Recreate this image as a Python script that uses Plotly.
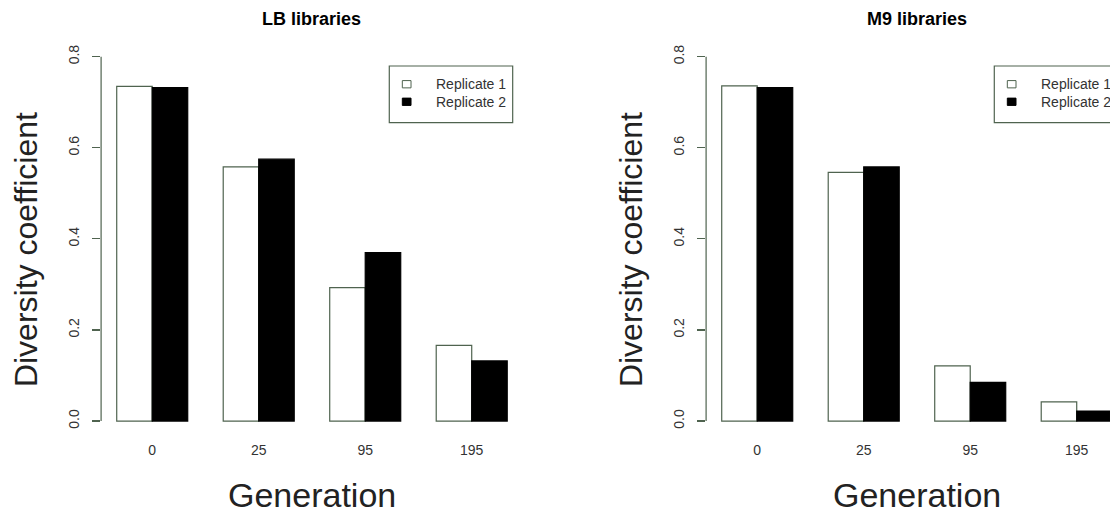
import plotly.graph_objects as go

# ---------------- data ----------------
generations = ["0", "25", "95", "195"]
lb_rep1 = [0.735, 0.558, 0.293, 0.166]
lb_rep2 = [0.732, 0.575, 0.370, 0.132]
m9_rep1 = [0.736, 0.546, 0.121, 0.042]
m9_rep2 = [0.732, 0.558, 0.085, 0.022]
y_ticks = [0.0, 0.2, 0.4, 0.6, 0.8]
panel_titles = ["LB libraries", "M9 libraries"]
series_names = ["Replicate 1", "Replicate 2"]
x_title = "Generation"
y_title = "Diversity coefficient"

# ---------------- style ----------------
W, H = 1110, 516
FONT = "Liberation Sans, Arial, sans-serif"
AXIS_COL = "#4f634f"
TXT_COL = "#333333"

def px_x(p):
    return p / W

def px_y(p):
    return 1 - p / H

# R barplot(beside=TRUE) layout: each group = space 1 + 2 bars
def bar_centers(i_bar):
    return [1 + 3 * g + i_bar + 0.5 for g in range(len(generations))]

group_centers = [1 + 3 * g + 1.0 for g in range(len(generations))]
x_lo, x_hi = 1 - 0.04 * 11, 1 + 11 + 0.04 * 11
y_lo, y_hi = -0.04 * 0.8, 0.8 + 0.04 * 0.8
px_per_unit = 35.5

panels = [
    dict(xa="x", ya="y", r1=lb_rep1, r2=lb_rep2, left_px=101.1),
    dict(xa="x2", ya="y2", r1=m9_rep1, r2=m9_rep2, left_px=706.1),
]

fig = go.Figure()
shapes = []
annotations = []

for k, p in enumerate(panels):
    fig.add_trace(go.Bar(
        x=bar_centers(0), y=p["r1"], width=1, name=series_names[0],
        marker=dict(color="white", line=dict(color=AXIS_COL, width=1.2)),
        xaxis=p["xa"], yaxis=p["ya"], showlegend=False, hoverinfo="skip"))
    fig.add_trace(go.Bar(
        x=bar_centers(1), y=p["r2"], width=1, name=series_names[1],
        marker=dict(color="black", line=dict(color="black", width=1.2)),
        xaxis=p["xa"], yaxis=p["ya"], showlegend=False, hoverinfo="skip"))

    # y axis line from first to last tick (R style)
    shapes.append(dict(type="line", xref=p["xa"] + " domain", yref=p["ya"],
                       x0=0, x1=0, y0=y_ticks[0], y1=y_ticks[-1],
                       line=dict(color=AXIS_COL, width=1.2)))

    # legend box (R legend, top right)
    shapes.append(dict(type="rect", xref=p["xa"], yref=p["ya"],
                       x0=8.678, x1=12.154, y0=0.655, y1=0.7795,
                       line=dict(color=AXIS_COL, width=1.2), fillcolor="white"))
    shapes.append(dict(type="rect", xref=p["xa"], yref=p["ya"],
                       x0=9.045, x1=9.29, y0=0.7315, y1=0.7475,
                       line=dict(color=AXIS_COL, width=1), fillcolor="white"))
    shapes.append(dict(type="rect", xref=p["xa"], yref=p["ya"],
                       x0=9.045, x1=9.29, y0=0.693, y1=0.709,
                       line=dict(color="black", width=1), fillcolor="black"))
    for nm, yy in zip(series_names, [0.7395, 0.701]):
        annotations.append(dict(xref=p["xa"], yref=p["ya"], x=9.93, y=yy,
                                text=nm, showarrow=False, xanchor="left",
                                yanchor="middle",
                                font=dict(family=FONT, size=14, color=TXT_COL)))

    xc = (x_lo + x_hi) / 2
    # panel title
    annotations.append(dict(xref=p["xa"], yref="paper", x=xc, y=px_y(19),
                            text="<b>%s</b>" % panel_titles[k], showarrow=False,
                            xanchor="center", yanchor="middle",
                            font=dict(family=FONT, size=18, color="black")))
    # x title
    annotations.append(dict(xref=p["xa"], yref="paper", x=xc, y=px_y(495),
                            text=x_title, showarrow=False,
                            xanchor="center", yanchor="middle",
                            font=dict(family=FONT, size=34, color="#222222")))
    # y title
    annotations.append(dict(xref="paper", yref="paper",
                            x=px_x(p["left_px"] - 75), y=px_y(250),
                            text=y_title, showarrow=False, textangle=-90,
                            xanchor="center", yanchor="middle",
                            font=dict(family=FONT, size=32, color="#222222")))

y_dom = [px_y(435.6), px_y(42.1)]

def xaxis_cfg(left_px, anchor):
    right_px = min(left_px + (x_hi - x_lo) * px_per_unit, W)
    hi = x_lo + (right_px - left_px) / px_per_unit
    return dict(domain=[px_x(left_px), px_x(right_px)], range=[x_lo, hi],
                anchor=anchor, showline=False, showgrid=False, zeroline=False,
                ticks="", tickmode="array", tickvals=group_centers,
                ticktext=generations, ticklabelstandoff=4, fixedrange=True,
                tickfont=dict(family=FONT, size=14, color=TXT_COL))

def yaxis_cfg(anchor):
    return dict(domain=y_dom, range=[y_lo, y_hi], anchor=anchor,
                showline=False, showgrid=False, zeroline=False,
                ticks="outside", ticklen=8, tickwidth=1.2, tickcolor=AXIS_COL,
                tickmode="array", tickvals=y_ticks, fixedrange=True,
                ticktext=["%.1f" % v for v in y_ticks], tickangle=-90,
                ticklabelstandoff=8,
                tickfont=dict(family=FONT, size=14, color=TXT_COL))

fig.update_layout(
    width=W, height=H,
    margin=dict(l=0, r=0, t=0, b=0, autoexpand=False),
    paper_bgcolor="white", plot_bgcolor="white",
    barmode="overlay", bargap=0,
    showlegend=False, hovermode=False,
    xaxis=xaxis_cfg(panels[0]["left_px"], "y"),
    yaxis=yaxis_cfg("x"),
    xaxis2=xaxis_cfg(panels[1]["left_px"], "y2"),
    yaxis2=yaxis_cfg("x2"),
    shapes=shapes,
    annotations=annotations,
    font=dict(family=FONT),
)

fig.write_html(
    "out.html",
    config={"displayModeBar": False, "staticPlot": True},
    post_script="document.body.style.margin='0';document.body.style.padding='0';"
                "document.body.style.overflow='hidden';",
)
